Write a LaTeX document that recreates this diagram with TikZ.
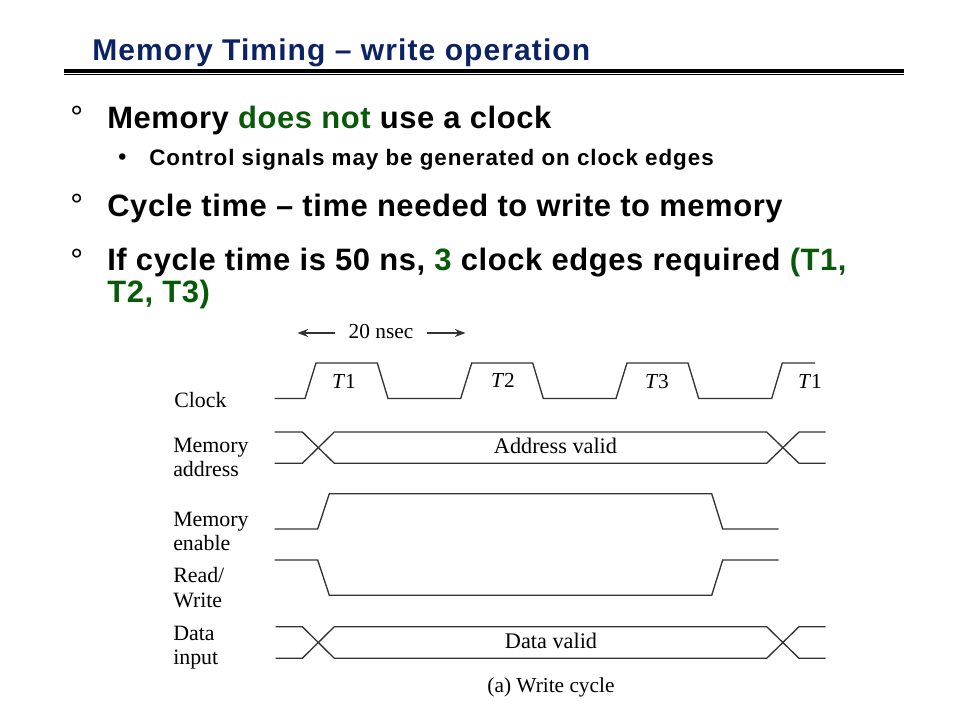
\documentclass[tikz,border=0pt]{standalone}
\usepackage{fontspec}
\setmainfont{Liberation Sans}
\newfontfamily\figfont{Liberation Serif}
\definecolor{titleblue}{HTML}{0B2265}
\definecolor{accentgreen}{HTML}{085A08}
\definecolor{wavegray}{HTML}{333333}
\usetikzlibrary{arrows.meta}
\tikzset{
  px/.style={x=0.75pt,y=-0.75pt},
  titletext/.style={anchor=base west,inner sep=0pt,font=\fontsize{22.5}{26}\selectfont\bfseries\addfontfeatures{LetterSpace=3.65},text=titleblue},
  bodytext/.style={anchor=base west,inner sep=0pt,font=\fontsize{23.2}{27}\selectfont\bfseries\addfontfeatures{LetterSpace=1.95}},
  subtext/.style={anchor=base west,inner sep=0pt,font=\fontsize{16.8}{20}\selectfont\bfseries\addfontfeatures{LetterSpace=4.2}},
  bullettext/.style={anchor=base west,inner sep=0pt,font=\fontsize{24}{28}\selectfont},
  dottext/.style={anchor=base west,inner sep=0pt,font=\fontsize{17}{20}\selectfont\bfseries},
  figtext/.style={anchor=base west,inner sep=0pt,font=\figfont\fontsize{16.4}{18.7}\selectfont,align=left},
  figcenter/.style={anchor=base,inner sep=0pt,font=\figfont\fontsize{16}{18.7}\selectfont},
  figvalid/.style={anchor=base,inner sep=0pt,font=\figfont\fontsize{16.7}{18.7}\selectfont},
  wave/.style={draw=wavegray,line width=1pt,line join=miter},
  spanarrow/.style={draw=wavegray,line width=0.9pt,-{Stealth[length=8pt,width=6pt]}},
}
\newcommand{\gr}[1]{\textcolor{accentgreen}{#1}}
\begin{document}
\begin{tikzpicture}[px]
\useasboundingbox (0,0) rectangle (960,720);
% title
\node[titletext] (title) at (92,61) {Memory Timing – write operation};
\fill[black] (64,69.5) rectangle (904,73);
\fill[black] (64,74.2) rectangle (904,75.2);
% body
\node[bullettext] (b1) at (70,129) {°};
\node[bodytext] (t1) at (107,129) {Memory \gr{does not} use a clock};
\node[dottext] (b2) at (118,165) {•};
\node[subtext] (t2) at (149,165.5) {Control signals may be generated on clock edges};
\node[bullettext] (b3) at (70,217) {°};
\node[bodytext] (t3) at (107,217) {Cycle time – time needed to write to memory};
\node[bullettext] (b4) at (70,272) {°};
\node[bodytext] (t4) at (107,271) {If cycle time is 50 ns, \gr{3} clock edges required \gr{(T1,}};
\node[bodytext] (t5) at (107,302) {\gr{T2, T3)}};
% span
\node[figcenter] (span) at (381,338) {20 nsec};
\coordinate (spanL) at (297.5,333);
\coordinate (spanR) at (465.5,333);
\draw[spanarrow] (335,333) -- (spanL);
\draw[spanarrow] (427,333) -- (spanR);
% labels
\node[figtext] (lclock) at (174,407) {Clock};
\node[figtext] (lma1) at (173,452) {Memory};
\node[figtext] (lma2) at (173,476) {address};
\node[figtext] (lme1) at (173,526) {Memory};
\node[figtext] (lme2) at (173,550) {enable};
\node[figtext] (lrw1) at (173,582) {Read/};
\node[figtext] (lrw2) at (173,607) {Write};
\node[figtext] (ldi1) at (173,640) {Data};
\node[figtext] (ldi2) at (173,664) {input};
% clock
\draw[wave] (274.5,398.5) -- (305,398.5) -- (316,363) -- (377.3,363) -- (388,398.5)
  -- (460.7,398.5) -- (471.7,363) -- (532.7,363) -- (543.3,398.5)
  -- (616,398.5) -- (627,363) -- (688,363) -- (698.7,398.5)
  -- (771.7,398.5) -- (782.3,363) -- (815,363);
\node[figcenter] (c1) at (344,388) {\textit{T}1};
\node[figcenter] (c2) at (503,387) {\textit{T}2};
\node[figcenter] (c3) at (657,388) {\textit{T}3};
\node[figcenter] (c4) at (810,388) {\textit{T}1};
% memory address
\draw[wave] (274.5,432) -- (302.3,432) -- (334.3,463.3) -- (766.7,463.3) -- (799,432) -- (825.7,432);
\draw[wave] (274.5,463.3) -- (302.3,463.3) -- (334.3,432) -- (766.7,432) -- (799,463.3) -- (825.7,463.3);
\node[figvalid] (addr) at (555.5,453) {Address valid};
% memory enable
\draw[wave] (274.5,529) -- (317.7,529) -- (329.3,493.7) -- (711.7,493.7) -- (722.7,529) -- (778.7,529);
% read/write
\draw[wave] (274.5,560) -- (317.7,560) -- (329.3,595.3) -- (711.7,595.3) -- (722.7,560) -- (778.7,560);
% data input
\draw[wave] (275.7,626.7) -- (302.3,626.7) -- (334.3,658.3) -- (766.7,658.3) -- (799,626.7) -- (825.7,626.7);
\draw[wave] (275.7,658.3) -- (302.3,658.3) -- (334.3,626.7) -- (766.7,626.7) -- (799,658.3) -- (825.7,658.3);
\node[figvalid] (data) at (551,648) {Data valid};
\node[figcenter] (cap) at (551,692) {(a) Write cycle};
\end{tikzpicture}
\end{document}
